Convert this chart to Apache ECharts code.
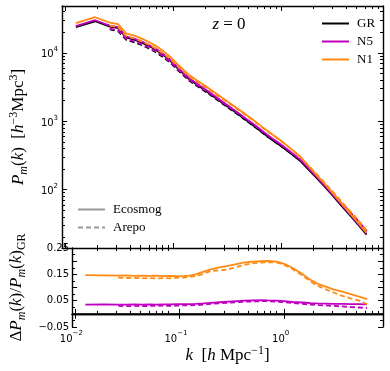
<!DOCTYPE html>
<html>
<head>
<meta charset="utf-8">
<script src="https://cdn.jsdelivr.net/npm/echarts@6/dist/echarts.min.js"></script>
<style>
html, body { margin: 0; padding: 0; background: #fff; }
#chart { width: 390px; height: 371px; }
</style>
</head>
<body>
<div id="chart"></div>
<script>
// k bins (h/Mpc)
const kEco = [0.0126, 0.019, 0.026, 0.031, 0.037, 0.044, 0.052, 0.060, 0.070, 0.080, 0.094, 0.11, 0.124, 0.143, 0.17, 0.2, 0.24, 0.29, 0.35, 0.42, 0.5, 0.6, 0.7, 0.85, 1.0, 1.2, 1.5, 1.8, 2.1, 2.5, 3.0, 3.6, 4.3, 5.2, 6.2];
const kArepo = [0.026, 0.031, 0.037, 0.044, 0.052, 0.060, 0.070, 0.080, 0.094, 0.11, 0.124, 0.143, 0.17, 0.2, 0.24, 0.29, 0.35, 0.42, 0.5, 0.6, 0.7, 0.85, 1.0, 1.2, 1.5, 1.8, 2.1, 2.5, 3.0, 3.6, 4.3, 5.2, 6.2];

// P(k) - Ecosmog (solid)
const pGrEco = [23800, 29000, 24200, 23000, 16700, 15600, 14000, 12600, 11000, 9500, 7700, 6000, 5000, 4050, 3350, 2800, 2280, 1830, 1480, 1200, 980, 790, 650, 520, 435, 350, 265, 196, 152, 113, 82, 59, 43, 30.5, 22];
const pN5Eco = [24630, 30040, 25050, 23800, 17300, 16150, 14500, 13040, 11400, 9840, 7985, 6220, 5185, 4204, 3484, 2918, 2380, 1914, 1551, 1260, 1030, 831, 683, 546, 456, 366, 276, 204, 158, 117.4, 85.1, 61.2, 44.6, 31.6, 22.8];
const pN1Eco = [27300, 33230, 27710, 26360, 19100, 17860, 16020, 14430, 12570, 10870, 8800, 6860, 5725, 4658, 3886, 3273, 2681, 2163, 1760, 1434, 1174, 948, 781, 623, 518, 411, 305, 221, 169, 124.6, 89.5, 64, 46.2, 32.5, 23.2];

// P(k) - Arepo (dashed)
const pGrArepo = [22000, 20800, 15500, 14300, 12900, 11600, 10100, 8800, 7200, 5650, 4750, 3870, 3220, 2710, 2220, 1790, 1450, 1180, 965, 780, 645, 517, 434, 351, 268, 200, 157, 118, 87, 63.5, 47, 34, 24.5];
const pN5Arepo = [22660, 21400, 15970, 14710, 13290, 11950, 10410, 9064, 7423, 5831, 4902, 3998, 3333, 2813, 2309, 1865, 1514, 1234, 1010, 817, 676, 541, 453, 365, 278, 207, 162, 121.8, 89.6, 65.3, 48.2, 34.8, 25.0];
const pN1Arepo = [25040, 23630, 17620, 16230, 14650, 13150, 11470, 9990, 8190, 6430, 5415, 4427, 3710, 3152, 2586, 2091, 1708, 1399, 1150, 932, 771, 618, 515, 411, 307, 224, 174, 129, 94, 67.8, 49.8, 35.7, 25.4];

// relative difference to GR
const dN5Eco = [0.035, 0.036, 0.035, 0.035, 0.036, 0.035, 0.036, 0.035, 0.036, 0.036, 0.037, 0.037, 0.037, 0.038, 0.040, 0.042, 0.044, 0.046, 0.048, 0.050, 0.051, 0.052, 0.051, 0.050, 0.048, 0.045, 0.043, 0.041, 0.040, 0.039, 0.038, 0.038, 0.037, 0.037, 0.036];
const dN1Eco = [0.147, 0.146, 0.145, 0.146, 0.144, 0.145, 0.144, 0.145, 0.143, 0.144, 0.143, 0.144, 0.145, 0.150, 0.160, 0.169, 0.176, 0.182, 0.189, 0.195, 0.198, 0.200, 0.201, 0.198, 0.190, 0.175, 0.150, 0.128, 0.114, 0.103, 0.092, 0.084, 0.075, 0.065, 0.056];
const dN5Arepo = [0.030, 0.029, 0.030, 0.029, 0.030, 0.030, 0.031, 0.030, 0.031, 0.032, 0.032, 0.033, 0.035, 0.038, 0.040, 0.042, 0.044, 0.046, 0.047, 0.048, 0.048, 0.046, 0.044, 0.041, 0.038, 0.035, 0.033, 0.032, 0.030, 0.028, 0.026, 0.024, 0.022];
const dN1Arepo = [0.138, 0.136, 0.137, 0.135, 0.136, 0.134, 0.136, 0.135, 0.137, 0.138, 0.140, 0.144, 0.152, 0.163, 0.165, 0.168, 0.178, 0.186, 0.192, 0.195, 0.196, 0.195, 0.186, 0.170, 0.145, 0.122, 0.106, 0.093, 0.080, 0.068, 0.059, 0.050, 0.037];

// ticks
const xMajor = [0.01, 0.1, 1];
const xMinor = [0.02, 0.03, 0.04, 0.05, 0.06, 0.07, 0.08, 0.09, 0.2, 0.3, 0.4, 0.5, 0.6, 0.7, 0.8, 0.9, 2, 3, 4, 5, 6, 7, 8];
const pMajor = [100, 1000, 10000];
const pMinor = [20, 30, 40, 50, 60, 70, 80, 90, 200, 300, 400, 500, 600, 700, 800, 900, 2000, 3000, 4000, 5000, 6000, 7000, 8000, 9000, 20000, 30000, 40000];
const ratioLabels = ['−0.05', '0.05', '0.15', '0.25'];

const kMin = 0.0094, kMax = 8.8;
const pMin = 14, pMax = 48500;

const cGR = '#000000', cN5 = '#c000c0', cN1 = '#ff8a14';
const serif = 'Liberation Serif';
const sans = 'DejaVu Sans';

function pairs(ks, vs) {
  return ks.map((k, i) => [k, vs[i]]);
}

function powLabel(v) {
  const e = Math.round(Math.log10(v));
  return '{b|10}{s|' + (e < 0 ? '−' + (-e) : e) + '}';
}

const powRich = {
  b: { fontFamily: sans, fontSize: 10, color: '#000', lineHeight: 14, verticalAlign: 'bottom' },
  s: { fontFamily: sans, fontSize: 7, color: '#000', lineHeight: 8, verticalAlign: 'top' }
};

const mathRich = {
  i: { fontFamily: serif, fontStyle: 'italic', fontWeight: 'normal', fontSize: 17, color: '#000', lineHeight: 22 },
  r: { fontFamily: serif, fontWeight: 'normal', fontSize: 17, color: '#000', lineHeight: 22 },
  sup: { fontFamily: serif, fontSize: 12, color: '#000', lineHeight: 10, verticalAlign: 'top' },
  sub: { fontFamily: serif, fontStyle: 'italic', fontSize: 12, color: '#000', lineHeight: 10, verticalAlign: 'bottom' },
  subr: { fontFamily: serif, fontSize: 12, color: '#000', lineHeight: 10, verticalAlign: 'bottom' }
};

// log x axis (major ticks) or tick-only axis (minor)
function kAxis(grid, pos, ticks, len, line, labels) {
  return {
    type: 'log', logBase: 10, gridIndex: grid, position: pos, min: kMin, max: kMax,
    axisLine: { show: line, lineStyle: { color: '#000', width: 1.4 } },
    axisTick: { show: true, inside: true, length: len, customValues: ticks, lineStyle: { color: '#000', width: 1 } },
    axisLabel: labels ? { show: true, customValues: xMajor, formatter: powLabel, rich: powRich, margin: 3, padding: [0, 7, 0, 0] } : { show: false },
    splitLine: { show: false }
  };
}

function pAxis(grid, pos, ticks, len, line, labels) {
  return {
    type: 'log', logBase: 10, gridIndex: grid, position: pos, min: pMin, max: pMax,
    axisLine: { show: line, lineStyle: { color: '#000', width: 1.4 } },
    axisTick: { show: true, inside: true, length: len, customValues: ticks, lineStyle: { color: '#000', width: 1 } },
    axisLabel: labels ? { show: true, customValues: pMajor, formatter: powLabel, rich: powRich, margin: 4 } : { show: false },
    splitLine: { show: false }
  };
}

function ratioAxis(grid, pos, labels) {
  return {
    type: 'value', gridIndex: grid, position: pos, min: -0.05, max: 0.25, interval: 0.05,
    axisLine: { show: true, lineStyle: { color: '#000', width: 1.4 } },
    axisTick: { show: true, inside: true, length: 5, lineStyle: { color: '#000', width: 1 } },
    minorTick: { show: true, splitNumber: 2, length: 3, lineStyle: { color: '#000', width: 1 } },
    axisLabel: labels ? {
      show: true, margin: 3, fontFamily: sans, fontSize: 10, color: '#000',
      formatter: function (v) {
        const s = v.toFixed(2).replace('-', '−');
        return ratioLabels.indexOf(s) >= 0 ? s : '';
      }
    } : { show: false },
    splitLine: { show: false }, minorSplitLine: { show: false }
  };
}

function line(name, data, color, dashed, xi, yi) {
  return {
    name: name, type: 'line', data: data, xAxisIndex: xi, yAxisIndex: yi,
    symbol: 'none', showSymbol: false, color: color, silent: true,
    lineStyle: { color: color, width: 1.8, type: dashed ? [5, 3] : 'solid' }
  };
}

const chart = echarts.init(document.getElementById('chart'), null, { renderer: 'canvas' });

const legendText = { fontFamily: serif, fontSize: 13, color: '#000', padding: [0, 0, 0, 3] };

const option = {
  animation: false,
  backgroundColor: '#fff',
  grid: [
    { left: 62, right: 7, top: 6, height: 242 },
    { left: 62, right: 7, top: 248, height: 79 },
    { left: 62, right: 7, top: 6, height: 242 },
    { left: 62, right: 7, top: 248, height: 79 }
  ],
  title: {
    text: '{i|z}{r| = 0}', left: 224, top: 9, textAlign: 'center',
    textStyle: { fontWeight: 'normal', rich: mathRich }
  },
  legend: [
    {
      data: ['GR', 'N5', 'N1'], orient: 'vertical', left: 316, top: 12,
      itemWidth: 27, itemHeight: 10, itemGap: 5,
      itemStyle: { opacity: 0 }, textStyle: legendText
    },
    {
      data: ['Ecosmog', 'Arepo'], orient: 'vertical', left: 72, top: 198,
      itemWidth: 27, itemHeight: 10, itemGap: 5,
      itemStyle: { opacity: 0 }, textStyle: legendText
    }
  ],
  xAxis: [
    kAxis(0, 'bottom', xMajor, 5, true, false),
    kAxis(0, 'top', xMajor, 5, true, false),
    Object.assign(kAxis(1, 'bottom', xMajor, 5, true, true), {
      name: '{i|k}{r|  [}{i|h}{r| Mpc}{sup|−1}{r|]}', nameLocation: 'middle', nameGap: 18,
      nameTextStyle: { rich: mathRich }
    }),
    kAxis(1, 'top', xMajor, 5, true, false),
    kAxis(2, 'bottom', xMinor, 3, false, false),
    kAxis(2, 'top', xMinor, 3, false, false),
    kAxis(3, 'bottom', xMinor, 3, false, false),
    kAxis(3, 'top', xMinor, 3, false, false)
  ],
  yAxis: [
    Object.assign(pAxis(0, 'left', pMajor, 5, true, true), {
      name: '{i|P}{sub|m}{r|(}{i|k}{r|)  [}{i|h}{sup|−3}{r|Mpc}{sup|3}{r|]}', nameLocation: 'middle', nameGap: 30,
      nameRotate: 90, nameTextStyle: { rich: mathRich }
    }),
    pAxis(0, 'right', pMajor, 5, true, false),
    Object.assign(ratioAxis(1, 'left', true), {
      name: '{r|Δ}{i|P}{sub|m}{r|(}{i|k}{r|)/}{i|P}{sub|m}{r|(}{i|k}{r|)}{subr|GR}', nameLocation: 'middle', nameGap: 41,
      nameRotate: 90, nameTextStyle: { rich: mathRich }
    }),
    ratioAxis(1, 'right', false),
    pAxis(2, 'left', pMinor, 3, false, false),
    pAxis(2, 'right', pMinor, 3, false, false),
    { type: 'value', gridIndex: 3, min: -0.05, max: 0.25, show: false }
  ],
  series: [
    line('GR', pairs(kEco, pGrEco), cGR, false, 0, 0),
    line('GR', pairs(kArepo, pGrArepo), cGR, true, 0, 0),
    line('N5', pairs(kEco, pN5Eco), cN5, false, 0, 0),
    line('N5', pairs(kArepo, pN5Arepo), cN5, true, 0, 0),
    line('N1', pairs(kEco, pN1Eco), cN1, false, 0, 0),
    line('N1', pairs(kArepo, pN1Arepo), cN1, true, 0, 0),
    line('Ecosmog', [], '#999999', false, 0, 0),
    line('Arepo', [], '#999999', true, 0, 0),
    Object.assign(line('GR', [], cGR, false, 2, 2), {
      markLine: {
        silent: true, symbol: 'none', label: { show: false },
        lineStyle: { color: '#000', width: 1.5, type: 'solid' },
        data: [{ yAxis: 0 }]
      }
    }),
    line('N5', pairs(kEco, dN5Eco), cN5, false, 2, 2),
    line('N5', pairs(kArepo, dN5Arepo), cN5, true, 2, 2),
    line('N1', pairs(kEco, dN1Eco), cN1, false, 2, 2),
    line('N1', pairs(kArepo, dN1Arepo), cN1, true, 2, 2),
    line('', [], '#000', false, 4, 4),
    line('', [], '#000', false, 6, 6)
  ]
};

chart.setOption(option);
</script>
</body>
</html>
